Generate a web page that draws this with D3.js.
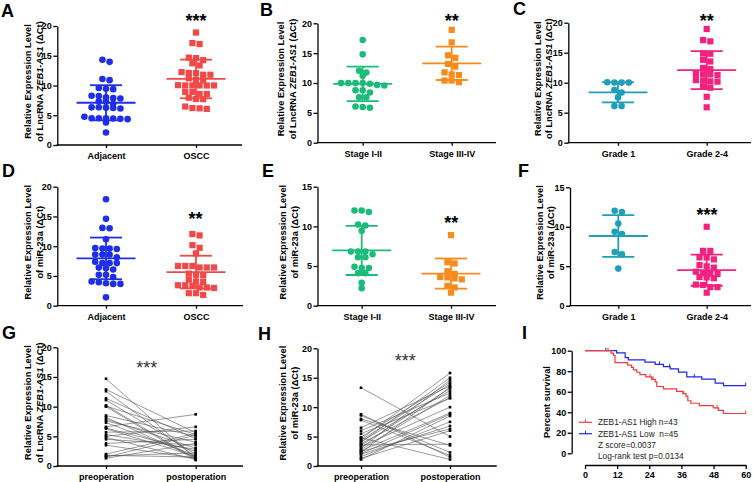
<!DOCTYPE html>
<html><head><meta charset="utf-8">
<script src="https://cdn.jsdelivr.net/npm/d3@7"></script>
<style>body{margin:0;background:#fff}svg{display:block}</style>
</head><body><svg id="c" width="753" height="482"></svg>
<script>
// ---------- DATA ----------
const groupsAD = ["Adjacent", "OSCC"];
const groupsBE = ["Stage I-II", "Stage III-IV"];
const groupsCF = ["Grade 1", "Grade 2-4"];
const groupsGH = ["preoperation", "postoperation"];

const adjA = [14.5, 13.8, 11.2, 10.8, 9.7, 9.4, 9.3, 8.5, 8.4, 8.0, 7.7, 7.6, 7.5, 7.4, 6.6, 6.4, 6.4, 6.3, 6.2, 6.0, 5.0, 4.5, 4.5, 4.5, 4.4, 4.3, 4.2, 3.8, 2.1];
const osccA = [18.9, 17.2, 16.9, 14.85, 14.7, 14.0, 13.9, 13.2, 12.5, 12.2, 12.15, 11.6, 11.6, 11.4, 10.9, 10.75, 10.1, 10.0, 10.0, 10.0, 10.0, 10.0, 9.1, 9.1, 8.4, 8.4, 8.1, 7.7, 7.6, 6.7, 6.2, 6.1, 5.9];
const statsA = [[7.1, 2.95], [11.1, 3.25]];

const stage12B = [17.2, 14.8, 12.2, 11.6, 11.2, 10.1, 10.1, 10.1, 10.1, 9.9, 9.5, 9.3, 8.9, 8.9, 8.15, 7.6, 7.6, 6.15, 6.0, 5.75];
const stage34B = [18.9, 16.8, 14.85, 14.0, 13.4, 12.55, 12.05, 11.35, 11.15, 10.5, 10.5, 9.95];
const statsB = [[9.85, 2.9], [13.3, 2.8]];

const grade1C = [10.1, 10.05, 10.0, 10.0, 9.0, 8.15, 7.55, 6.1, 6.1];
const grade24C = [18.95, 17.2, 16.8, 14.9, 14.8, 13.95, 13.4, 12.55, 12.2, 11.55, 11.45, 11.4, 11.15, 10.55, 10.45, 10.15, 10.05, 9.5, 9.05, 7.65, 5.9];
const statsC = [[8.4, 1.68], [12.1, 3.17]];

const adjD = [17.9, 14.6, 13.1, 13.0, 11.15, 9.8, 9.6, 9.6, 9.45, 8.7, 8.7, 8.7, 7.8, 7.55, 7.1, 7.1, 7.1, 6.55, 6.3, 5.9, 5.3, 5.3, 4.6, 4.3, 4.05, 3.75, 3.5, 3.5, 1.4];
const osccD = [12.15, 11.7, 10.4, 9.5, 8.8, 6.8, 6.8, 6.8, 6.3, 6.3, 6.3, 5.55, 5.15, 5.0, 4.6, 4.0, 3.85, 3.65, 3.65, 3.5, 2.9, 2.9, 2.75, 2.2, 2.2, 1.6];
const statsD = [[7.95, 3.5], [5.65, 2.75]];

const stage12E = [12.05, 12.05, 11.7, 10.3, 10.05, 9.45, 6.9, 6.9, 6.9, 6.25, 6.1, 6.1, 5.0, 4.7, 4.7, 4.1, 4.1, 2.9, 2.2];
const stage34E = [8.9, 5.55, 5.25, 4.5, 3.85, 3.75, 3.65, 3.4, 3.15, 2.6, 2.2, 1.65];
const statsE = [[6.97, 3.1], [4.05, 1.9]];

const grade1F = [12.1, 11.8, 10.4, 9.5, 8.95, 6.95, 6.35, 4.7];
const grade24F = [10.0, 6.95, 6.95, 6.2, 6.2, 5.7, 5.3, 5.0, 4.65, 4.5, 4.1, 3.95, 3.9, 3.7, 3.6, 3.4, 2.85, 2.75, 2.2, 2.2, 1.65];
const statsF = [[8.83, 2.65], [4.5, 1.97]];

const preG  = [14.7, 12.9, 12.6, 11.4, 11.1, 10.2, 10.1, 10.0, 8.5, 8.2, 7.9, 7.6, 7.3, 6.6, 6.4, 6.3, 5.7, 5.3, 5.0, 4.8, 4.5, 3.8, 3.5, 2.0, 1.7, 1.5, 1.3, 1.8];
const postG = [1.3, 5.6, 1.5, 4.6, 2.0, 1.2, 5.3, 1.0, 5.0, 1.4, 3.0, 4.0, 1.8, 8.7, 2.5, 1.6, 5.9, 2.8, 6.6, 1.1, 3.5, 4.5, 1.3, 5.5, 2.2, 5.2, 3.8, 1.5];

const preH  = [13.3, 8.8, 8.6, 8.0, 7.8, 6.5, 6.0, 5.5, 4.9, 4.6, 4.4, 4.2, 4.0, 3.8, 3.5, 3.3, 3.0, 2.8, 2.6, 2.5, 2.3, 2.1, 2.0, 1.6, 1.3, 1.1, 3.6, 4.8];
const postH = [5.0, 1.5, 2.3, 3.5, 1.8, 13.6, 12.4, 11.5, 14.2, 15.8, 13.9, 12.8, 15.0, 11.6, 13.2, 10.0, 14.6, 12.0, 9.0, 6.3, 13.4, 8.8, 6.8, 7.5, 6.0, 8.5, 3.7, 1.1];

const ticks20 = [0, 5, 10, 15, 20];
const ticks15 = [0, 5, 10, 15];
const kmYTicks = [0, 20, 40, 60, 80, 100];
const kmXTicks = [0, 12, 24, 36, 48, 60];
const highSteps = [[0,100],[9.7,97.7],[10.6,95.3],[11.2,88.4],[15.9,86.0],[17.4,83.7],[18.1,81.4],[19.3,79.0],[20.5,76.7],[22.7,74.4],[24.9,72.1],[26.2,69.7],[26.8,65.1],[29.3,62.8],[34.2,60.4],[36.5,58.1],[37.7,55.8],[38.4,51.2],[39.5,48.8],[42.7,46.5],[47.9,44.2],[49.8,41.9],[51.7,38.8],[60,38.8]];
const highCensor = [8.6, 24.3, 25.4, 36.9, 49.3, 60];
const lowSteps = [[0,100],[11.8,97.8],[15.0,93.3],[16.2,91.1],[22.4,88.9],[26.2,86.7],[29.3,84.4],[31.8,82.2],[34.9,79.1],[38.0,74.5],[43.6,72.2],[48.6,68.3],[51.7,66.0],[60,66.0]];
const lowCensor = [7.8, 27.8, 31.6, 40.8, 60];
const legendLabels = ["ZEB1-AS1 High n=43", "ZEB1-AS1 Low  n=45", "Z score=0.0037", "Log-rank test p=0.0134"];

const lncTitle = [[{t:"Relative Expression Level"}], [{t:"of LncRNA "},{t:"ZEB1-AS1",i:true},{t:" (ΔCt)"}]];
const mirTitle = [[{t:"Relative Expression Level"}], [{t:"of miR-23a (ΔCt)"}]];

// ---------- DRAWING ----------
const FONT = '"Liberation Sans", Arial, Helvetica, sans-serif';
const svg = d3.select("#c");
svg.append("rect").attr("width",753).attr("height",482).attr("fill","#fff");

function letter(t, x, y) {
  svg.append("text").attr("x",x).attr("y",y).text(t)
    .attr("font-family",FONT).attr("font-size",18).attr("font-weight","bold");
}
function yTitle(lines, xs, yc) {
  lines.forEach((parts, i) => {
    const t = svg.append("text")
      .attr("transform",`translate(${xs[i]},${yc}) rotate(-90)`)
      .attr("text-anchor","middle").attr("dominant-baseline","central")
      .attr("font-family",FONT).attr("font-size",9.3).attr("font-weight","bold");
    parts.forEach(p => t.append("tspan").text(p.t).attr("font-style", p.i ? "italic" : null));
  });
}
function styleAxis(a) {
  a.attr("font-family",FONT);
  a.selectAll(".domain").attr("stroke","#000").attr("stroke-width",1.3);
  a.selectAll(".tick line").attr("stroke","#000").attr("stroke-width",1.3);
  a.selectAll(".tick text").attr("font-size",9).attr("font-weight","bold").attr("fill","#000").attr("font-family",FONT);
}
function axes(cfg, y, x) {
  const ay = svg.append("g").attr("transform",`translate(${cfg.ax},0)`)
    .call(d3.axisLeft(y).tickValues(cfg.ticks).tickSize(4).tickSizeOuter(0).tickPadding(1.5).tickFormat(d3.format("d")));
  styleAxis(ay);
  svg.append("line").attr("x1",cfg.ax-0.65).attr("x2",cfg.xEnd).attr("y1",cfg.bot).attr("y2",cfg.bot)
    .attr("stroke","#000").attr("stroke-width",1.3);
  const ax = svg.append("g").attr("transform",`translate(0,${cfg.bot})`)
    .call(d3.axisBottom(x).tickSize(3).tickSizeOuter(0).tickPadding(4.5));
  ax.select(".domain").remove();
  styleAxis(ax);
}
function stars(t, cx, cy, bold) {
  svg.append("text").attr("x",cx).attr("y",cy+10.5).attr("text-anchor","middle").text(t)
    .attr("font-family",FONT).attr("font-size",18).attr("font-weight",bold?"bold":"normal")
    .attr("fill", bold ? "#000" : "#333");
}
function layoutRows(vals, y, cx, spacing, thr) {
  const pts = vals.map(v => ({v})).sort((a,b) => b.v - a.v);
  const rows = []; let cur = null;
  pts.forEach(d => {
    if (cur && Math.abs(y(cur[0].v) - y(d.v)) <= thr) cur.push(d);
    else { cur = [d]; rows.push(cur); }
  });
  rows.forEach(r => {
    const ry = d3.mean(r, d => y(d.v));
    r.forEach((d,i) => { d.x = cx + (i - (r.length-1)/2) * spacing; d.y = (y(d.v) + ry) / 2; });
  });
  return pts;
}

function dotPanel(cfg) {
  const y = d3.scaleLinear().domain([0, cfg.max]).range([cfg.bot, cfg.top]);
  const x = d3.scalePoint().domain(cfg.groups).range(cfg.cats);
  letter(cfg.letter, cfg.lx, cfg.ly);
  yTitle(cfg.title, cfg.tx, (cfg.top + cfg.bot)/2 - 4);
  axes(cfg, y, x);
  cfg.values.forEach((vals, gi) => {
    const cx = x(cfg.groups[gi]);
    const col = cfg.colors[gi];
    const pts = layoutRows(vals, y, cx, 7.2, 5.5);
    const g = svg.append("g").attr("fill", col);
    if (cfg.shapes[gi] === "circle") {
      g.selectAll("circle").data(pts).join("circle").attr("cx",d=>d.x).attr("cy",d=>d.y).attr("r",3.3);
    } else {
      g.selectAll("rect").data(pts).join("rect").attr("x",d=>d.x-3.1).attr("y",d=>d.y-3.1).attr("width",6.2).attr("height",6.2);
    }
    const [m, sd] = cfg.stats[gi];
    const e = svg.append("g").attr("stroke", col).attr("stroke-width", 1.8);
    e.append("line").attr("x1",cx-29.5).attr("x2",cx+29.5).attr("y1",y(m)).attr("y2",y(m));
    e.append("line").attr("x1",cx-16).attr("x2",cx+16).attr("y1",y(m+sd)).attr("y2",y(m+sd));
    e.append("line").attr("x1",cx-16).attr("x2",cx+16).attr("y1",y(m-sd)).attr("y2",y(m-sd));
    e.append("line").attr("x1",cx).attr("x2",cx).attr("y1",y(m-sd)).attr("y2",y(m+sd));
  });
  stars(cfg.star, cfg.sx, cfg.sy, true);
}

function pairPanel(cfg) {
  const y = d3.scaleLinear().domain([0, cfg.max]).range([cfg.bot, cfg.top]);
  const x = d3.scalePoint().domain(cfg.groups).range(cfg.cats);
  letter(cfg.letter, cfg.lx, cfg.ly);
  yTitle(cfg.title, cfg.tx, (cfg.top + cfg.bot)/2 - 4);
  axes(cfg, y, x);
  const [pre, post] = cfg.values;
  const x0 = x(cfg.groups[0]), x1 = x(cfg.groups[1]);
  svg.append("g").attr("stroke","#555").attr("stroke-width",0.6)
    .selectAll("line").data(pre.map((v,i)=>[v, post[i]])).join("line")
    .attr("x1",x0).attr("x2",x1).attr("y1",d=>y(d[0])).attr("y2",d=>y(d[1]));
  const pts = pre.map(v=>({x:x0,v})).concat(post.map(v=>({x:x1,v})));
  svg.append("g").attr("fill","#000").selectAll("rect").data(pts).join("rect")
    .attr("x",d=>d.x-1.3).attr("y",d=>y(d.v)-1.3).attr("width",2.6).attr("height",2.6);
  stars(cfg.star, cfg.sx, cfg.sy, false);
}

const blue = "#1f2ee8", red = "#f24848", green = "#1dbb7a", orange = "#f98b1d", teal = "#1f9fb9", pink = "#f5217f";

dotPanel({letter:"A", lx:1, ly:17, ax:57.3, top:26, bot:145, xEnd:242, cats:[106,196], max:20, ticks:ticks20,
  groups:groupsAD, values:[adjA, osccA], stats:statsA, colors:[blue, red], shapes:["circle","square"],
  title:lncTitle, tx:[28.3, 40], star:"***", sx:196, sy:16.7});
dotPanel({letter:"B", lx:260, ly:16, ax:317.5, top:23.3, bot:142.7, xEnd:496, cats:[362.7,451.7], max:20, ticks:ticks20,
  groups:groupsBE, values:[stage12B, stage34B], stats:statsB, colors:[green, orange], shapes:["circle","square"],
  title:lncTitle, tx:[281, 292.5], star:"**", sx:451.7, sy:16});
dotPanel({letter:"C", lx:513, ly:15, ax:568.3, top:22.7, bot:142.7, xEnd:751, cats:[618,706.7], max:20, ticks:ticks20,
  groups:groupsCF, values:[grade1C, grade24C], stats:statsC, colors:[teal, pink], shapes:["circle","square"],
  title:lncTitle, tx:[537.7, 549.3], star:"**", sx:706.7, sy:16});
dotPanel({letter:"D", lx:2, ly:177, ax:57.3, top:186.7, bot:305.7, xEnd:243, cats:[106,196], max:20, ticks:ticks20,
  groups:groupsAD, values:[adjD, osccD], stats:statsD, colors:[blue, red], shapes:["circle","square"],
  title:mirTitle, tx:[28.3, 40], star:"**", sx:195.5, sy:214});
dotPanel({letter:"E", lx:262, ly:177, ax:317.5, top:186.7, bot:305.7, xEnd:496, cats:[361.7,451], max:15, ticks:ticks15,
  groups:groupsBE, values:[stage12E, stage34E], stats:statsE, colors:[green, orange], shapes:["circle","square"],
  title:mirTitle, tx:[283.3, 295], star:"**", sx:451.3, sy:218.3});
dotPanel({letter:"F", lx:518, ly:177, ax:570, top:187.3, bot:305.7, xEnd:751, cats:[618.3,706.7], max:15, ticks:ticks15,
  groups:groupsCF, values:[grade1F, grade24F], stats:statsF, colors:[teal, pink], shapes:["circle","square"],
  title:mirTitle, tx:[540, 550.7], star:"***", sx:707, sy:210.7});
pairPanel({letter:"G", lx:2, ly:339, ax:57.3, top:347.3, bot:466, xEnd:243, cats:[106,195.7], max:20, ticks:ticks20,
  groups:groupsGH, values:[preG, postG], title:lncTitle, tx:[28.3, 40], star:"***", sx:146.7, sy:363.3});
pairPanel({letter:"H", lx:258, ly:340, ax:317.5, top:348.3, bot:466, xEnd:496.7, cats:[361,450], max:20, ticks:ticks20,
  groups:groupsGH, values:[preH, postH], title:mirTitle, tx:[283.3, 295], star:"***", sx:405.3, sy:356});

// ---------- Panel I: Kaplan-Meier ----------
(function(){
  const xs = d3.scaleLinear().domain([0,60]).range([585,745.7]);
  const ys = d3.scaleLinear().domain([0,100]).range([453.3,350.7]);
  letter("I", 522, 339);
  yTitle([[{t:"Percent survival"}]], [546.7], 402);
  const ay = svg.append("g").attr("transform","translate(571.7,0)")
    .call(d3.axisLeft(ys).tickValues(kmYTicks).tickSize(4).tickSizeOuter(0).tickPadding(1.5));
  styleAxis(ay);
  const ax = svg.append("g").attr("transform","translate(0,465)")
    .call(d3.axisBottom(xs).tickValues(kmXTicks).tickSize(4).tickSizeOuter(0).tickPadding(3));
  styleAxis(ax);
  const line = d3.line().x(d=>xs(d[0])).y(d=>ys(d[1])).curve(d3.curveStepAfter);
  const survAt = (steps, t) => { let s = steps[0][1]; steps.forEach(p => { if (p[0] <= t) s = p[1]; }); return s; };
  [[lowSteps, lowCensor, "#2424e6"], [highSteps, highCensor, "#f03a3a"]].forEach(([steps, cens, col]) => {
    svg.append("path").attr("d", line(steps)).attr("fill","none").attr("stroke",col).attr("stroke-width",1.2);
    svg.append("g").attr("stroke",col).attr("stroke-width",1).selectAll("line").data(cens).join("line")
      .attr("x1",d=>xs(d)).attr("x2",d=>xs(d)).attr("y1",d=>ys(survAt(steps,d))-3).attr("y2",d=>ys(survAt(steps,d))+0.5);
  });
  const legY = [422.3, 433.7, 445, 455.7];
  [["#f03a3a",0],["#2424e6",1]].forEach(([col,i]) => {
    svg.append("line").attr("x1",579).attr("x2",592).attr("y1",legY[i]).attr("y2",legY[i]).attr("stroke",col).attr("stroke-width",1.2);
    svg.append("line").attr("x1",585.5).attr("x2",585.5).attr("y1",legY[i]-3).attr("y2",legY[i]+0.5).attr("stroke",col).attr("stroke-width",1);
  });
  legendLabels.forEach((t,i) => {
    svg.append("text").attr("x",598).attr("y",legY[i]).attr("dominant-baseline","central")
      .attr("font-family",FONT).attr("font-size",8.3).attr("fill","#222").attr("xml:space","preserve")
      .style("white-space","pre").text(t);
  });
})();
</script></body></html>
